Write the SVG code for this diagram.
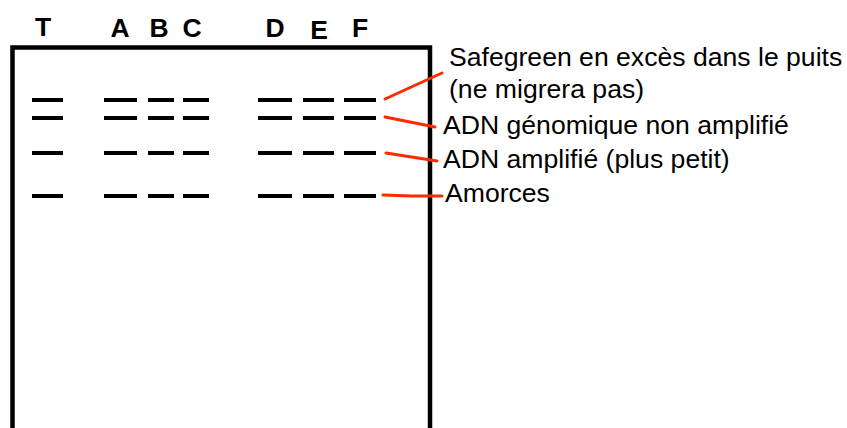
<svg xmlns="http://www.w3.org/2000/svg" width="847" height="428" viewBox="0 0 847 428">
<style>
.lane{font-family:"Liberation Sans",Arial,sans-serif;font-weight:bold;font-size:26.5px;fill:#000;text-anchor:middle}
.lbl{font-family:"Liberation Sans",Arial,sans-serif;font-size:26.6px;fill:#000}
.band{stroke:#000;stroke-width:4;fill:none}
.ptr{stroke:#ff2a00;stroke-width:3;fill:none;stroke-linecap:round}
</style>
<rect width="847" height="428" fill="#fff"/>
<g id="gel">
<path d="M12.5,440 V47.5 H430 V440" fill="none" stroke="#000" stroke-width="4.5"/>
</g>
<g id="lane-labels">
<text class="lane" x="43" y="36">T</text>
<text class="lane" x="120" y="37">A</text>
<text class="lane" x="159" y="37">B</text>
<text class="lane" x="192" y="37">C</text>
<text class="lane" x="275" y="37">D</text>
<text class="lane" x="319" y="39">E</text>
<text class="lane" x="360" y="37">F</text>
</g>
<g id="bands">
<path class="band" d="M32,100H63M104,100H137M148,100H174M183,100H209M258,100H292M303,100H334M344,100H376"/>
<path class="band" d="M32,118H63M104,118H137M148,118H174M183,118H209M258,118H292M303,118H334M344,118H376"/>
<path class="band" d="M32,153H63M104,153H137M148,153H174M183,153H209M258,153H292M303,153H334M344,153H376"/>
<path class="band" d="M32,196H63M104,196H137M148,196H174M183,196H209M258,196H292M303,196H334M344,196H376"/>
</g>
<g id="connectors">
<path class="ptr" d="M385,99L442,73"/>
<path class="ptr" d="M385,117L435,127"/>
<path class="ptr" d="M386,153L437,161"/>
<path class="ptr" d="M383,195L412,196L442,196"/>
</g>
<g id="label-safegreen">
<text class="lbl" x="449" y="66">Safegreen en excès dans le puits</text>
<text class="lbl" x="449" y="98">(ne migrera pas)</text>
</g>
<g id="label-genomic"><text class="lbl" x="443" y="134">ADN génomique non amplifié</text></g>
<g id="label-amplified"><text class="lbl" x="443" y="168">ADN amplifié (plus petit)</text></g>
<g id="label-primers"><text class="lbl" x="445" y="202">Amorces</text></g>
</svg>
